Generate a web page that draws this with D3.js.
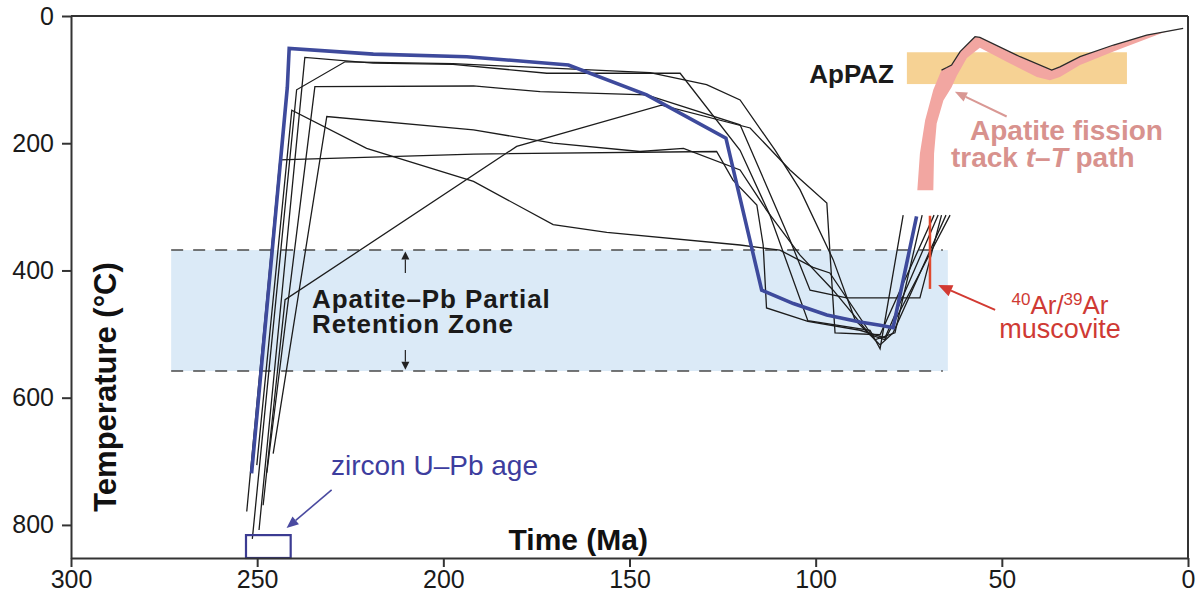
<!DOCTYPE html>
<html>
<head>
<meta charset="utf-8">
<script src="https://cdn.jsdelivr.net/npm/d3@7"></script>
<style>
  body { margin: 0; background: #fff; }
  svg { display: block; }
  text { font-family: "Liberation Sans", Arial, Helvetica, sans-serif; }
</style>
</head>
<body>
<svg id="chart" width="1204" height="594"></svg>
<script>
// Axis ticks
const timeTicks = [300, 250, 200, 150, 100, 50, 0];   // Ma
const tempTicks = [0, 200, 400, 600, 800];            // °C

// Best-fit thermal history: [time (Ma), temperature (°C)]
const bestPath = [[251.5, 719], [241.9, 112], [241.4, 51], [218.8, 60], [193.7, 64], [166.4, 77],
  [145.4, 124], [124.1, 192], [114.5, 431], [106.0, 452], [97.0, 470], [88.1, 481],
  [82.7, 486], [79.2, 490], [72.9, 315]];

// Individual modelled t–T paths
const path1 = [[249.5, 808], [237.2, 65], [218.9, 74], [197.4, 76], [172.2, 90], [136.4, 90],
  [120.3, 211], [112.3, 313], [102.1, 479], [85.4, 494], [82.7, 523], [76.5, 313]];
const path2 = [[251.3, 822], [239.4, 116], [226.4, 72], [197.4, 75], [144.5, 89], [129.3, 108],
  [120.3, 132], [110.9, 211], [104.2, 273], [95.3, 383], [89.4, 478], [82.7, 517], [79.2, 498], [65.0, 313]];
const path3 = [[247.4, 718], [234.5, 111], [191.9, 110], [174.0, 119], [145.4, 124], [120.3, 171],
  [106.9, 352], [101.5, 431], [91.7, 443], [72.0, 443], [66.2, 313]];
const path4 = [[245.7, 688], [231.3, 158], [191.9, 179], [170.5, 200], [147.2, 213], [135.5, 208],
  [120.3, 242], [113.2, 305], [104.2, 376], [95.3, 431], [85.4, 501], [81.4, 509], [63.9, 313]];
const path5 = [[252.8, 779], [243.9, 226], [191.9, 217], [126.6, 213], [122.2, 258], [115.8, 297],
  [114.1, 360], [113.2, 459], [102.1, 480], [88.1, 494], [81.4, 506], [67.1, 313]];
const path6 = [[250.1, 706], [240.7, 148], [220.6, 208], [191.9, 260], [170.5, 328], [156.1, 340],
  [120.3, 360], [109.6, 368], [100.7, 395], [96.2, 404], [84.1, 509], [78.7, 498], [71.4, 313]];
const path7 = [[248.4, 769], [242.5, 446], [180.3, 205], [141.4, 140], [117.6, 176], [106.9, 242],
  [97.0, 294], [94.8, 498], [82.7, 501], [68.2, 313]];
const modelPaths = [path1, path2, path3, path4, path5, path6, path7];

// Apatite–Pb partial retention zone
const przTime = [273.1, 64.5];
const przTemp = [368, 558];

// Apatite fission-track partial annealing zone (ApPAZ)
const apPazTime = [75.5, 16.4];
const apPazTemp = [57, 107];

// Apatite fission-track t–T envelope (upper edge, then lower edge back from the tip)
const aftUpper = [[72.7, 274], [72.0, 216], [70.6, 164], [68.4, 116], [66.2, 85], [64.8, 81], [63.5, 77],
  [61.2, 56], [57.2, 32.5], [55.9, 33.5], [45.1, 64], [36.6, 85], [34.4, 80], [29.0, 64],
  [20.0, 45.6], [11.1, 30], [1.3, 19.4]];
const aftLower = [[6.6, 26], [20.0, 56], [29.0, 77], [34.4, 96], [37.1, 101], [40.6, 96],
  [48.7, 72], [55.9, 50], [59.4, 66], [62.1, 94], [63.5, 112], [65.7, 133], [67.5, 169],
  [68.2, 216], [68.4, 274]];

// Zircon U–Pb age box and 40Ar/39Ar muscovite age
const zirconTime = [253.0, 241.0];
const zirconTemp = [816, 852];
const arArTime = 69.3;
const arArTemp = [314, 429];

const svg = d3.select("#chart");
const x = d3.scaleLinear().domain([300, 0]).range([71, 1188]);
const y = d3.scaleLinear().domain([0, 852]).range([16, 558]);
const line = d3.line().x(d => x(d[0])).y(d => y(d[1]));

function arrow(g, t1, T1, t2, T2, color, width, len, half) {
  const x1 = x(t1), y1 = y(T1), x2 = x(t2), y2 = y(T2);
  const a = Math.atan2(y2 - y1, x2 - x1);
  const bx = x2 - len * Math.cos(a), by = y2 - len * Math.sin(a);
  g.append("line").attr("x1", x1).attr("y1", y1).attr("x2", bx).attr("y2", by)
    .attr("stroke", color).attr("stroke-width", width);
  const px = -Math.sin(a) * half, py = Math.cos(a) * half;
  g.append("path")
    .attr("d", `M${x2},${y2}L${bx + px},${by + py}L${bx - px},${by - py}Z`)
    .attr("fill", color);
}

// Partial retention zone band
svg.append("rect")
  .attr("x", x(przTime[0])).attr("y", y(przTemp[0]))
  .attr("width", x(przTime[1]) - x(przTime[0]))
  .attr("height", y(przTemp[1]) - y(przTemp[0]))
  .attr("fill", "#dbeaf7");
przTemp.forEach(T => {
  svg.append("line")
    .attr("x1", x(przTime[0])).attr("x2", x(przTime[1]) - 5)
    .attr("y1", y(T)).attr("y2", y(T))
    .attr("stroke", "#4a4a4a").attr("stroke-width", 1.5)
    .attr("stroke-dasharray", "12,10");
});
const ann = svg.append("g");
arrow(ann, 210.2, 404, 210.2, przTemp[0] + 2, "#222", 1.2, 8, 4);
arrow(ann, 210.2, 525, 210.2, przTemp[1] - 2, "#222", 1.2, 8, 4);

ann.append("text").attr("x", 312).attr("y", 308)
  .attr("font-size", 26).attr("font-weight", "bold").attr("letter-spacing", 0.9).attr("fill", "#1a1a1a")
  .text("Apatite–Pb Partial");
ann.append("text").attr("x", 312).attr("y", 333)
  .attr("font-size", 26).attr("font-weight", "bold").attr("letter-spacing", 0.9).attr("fill", "#1a1a1a")
  .text("Retention Zone");

// Modelled paths
svg.append("g").selectAll("path").data(modelPaths).join("path")
  .attr("d", line)
  .attr("fill", "none").attr("stroke", "#1c1c1c").attr("stroke-width", 1.3)
  .attr("stroke-linejoin", "miter");

svg.append("path").attr("d", line(bestPath))
  .attr("fill", "none").attr("stroke", "#3e4a9c").attr("stroke-width", 3.6)
  .attr("stroke-linejoin", "miter");

// 40Ar/39Ar muscovite
svg.append("line")
  .attr("x1", x(arArTime)).attr("x2", x(arArTime))
  .attr("y1", y(arArTemp[0])).attr("y2", y(arArTemp[1]))
  .attr("stroke", "#e04a2e").attr("stroke-width", 2.5);
arrow(ann, 51.8, 462, 67.1, 423, "#d23a32", 2, 14, 6);
const arText = ann.append("text").attr("x", 1060).attr("y", 314)
  .attr("text-anchor", "middle").attr("font-size", 26).attr("fill", "#cf3a34");
arText.append("tspan").attr("font-size", 17).attr("dy", -9).text("40");
arText.append("tspan").attr("dy", 9).text("Ar/");
arText.append("tspan").attr("font-size", 17).attr("dy", -9).text("39");
arText.append("tspan").attr("dy", 9).text("Ar");
ann.append("text").attr("x", 1060).attr("y", 338)
  .attr("text-anchor", "middle").attr("font-size", 27).attr("fill", "#cf3a34")
  .text("muscovite");

// ApPAZ band and fission-track path
svg.append("rect")
  .attr("x", x(apPazTime[0])).attr("y", y(apPazTemp[0]))
  .attr("width", x(apPazTime[1]) - x(apPazTime[0]))
  .attr("height", y(apPazTemp[1]) - y(apPazTemp[0]))
  .attr("fill", "#f6d294");
svg.append("text").attr("x", 894).attr("y", 83)
  .attr("text-anchor", "end").attr("font-size", 26).attr("font-weight", "bold").attr("fill", "#1a1a1a")
  .text("ApPAZ");

svg.append("path")
  .attr("d", line(aftUpper.concat(aftLower)) + "Z")
  .attr("fill", "#f2a6a1");
svg.append("path")
  .attr("d", line(aftUpper.slice(4)))
  .attr("fill", "none").attr("stroke", "#2a2a2a").attr("stroke-width", 1.3);
arrow(ann, 48.7, 158, 62.6, 119, "#d99894", 2, 12, 5);
ann.append("text").attr("x", 970).attr("y", 140)
  .attr("font-size", 28).attr("font-weight", "bold").attr("fill", "#d8928e")
  .text("Apatite fission");
const trk = ann.append("text").attr("x", 951).attr("y", 167)
  .attr("font-size", 28).attr("font-weight", "bold").attr("fill", "#d8928e");
trk.append("tspan").text("track ");
trk.append("tspan").attr("font-style", "italic").text("t");
trk.append("tspan").text("–");
trk.append("tspan").attr("font-style", "italic").text("T");
trk.append("tspan").text(" path");

// Zircon U–Pb age
svg.append("rect")
  .attr("x", x(zirconTime[0])).attr("y", y(zirconTemp[0]))
  .attr("width", x(zirconTime[1]) - x(zirconTime[0]))
  .attr("height", y(zirconTemp[1]) - y(zirconTemp[0]))
  .attr("fill", "none").attr("stroke", "#3b3b92").attr("stroke-width", 2.2);
arrow(ann, 230.0, 745, 242.1, 805, "#4a4aa0", 1.6, 12, 5);
ann.append("text").attr("x", 331).attr("y", 475)
  .attr("font-size", 28).attr("fill", "#3d3d9e")
  .text("zircon U–Pb age");

// Axes and frame
const axisColor = "#333";
const gy = svg.append("g").attr("transform", `translate(${x(300)},0)`)
  .call(d3.axisLeft(y).tickValues(tempTicks).tickSize(9).tickPadding(8).tickSizeOuter(0));
const gx = svg.append("g").attr("transform", `translate(0,${y(852)})`)
  .call(d3.axisBottom(x).tickValues(timeTicks).tickSize(9).tickPadding(3).tickSizeOuter(0));
[gx, gy].forEach(g => {
  g.select(".domain").attr("stroke", axisColor).attr("stroke-width", 2);
  g.selectAll(".tick line").attr("stroke", axisColor).attr("stroke-width", 2);
  g.selectAll(".tick text").attr("font-size", 25).attr("fill", "#1a1a1a")
    .attr("font-family", "'Liberation Sans', Arial, sans-serif");
});
svg.append("line").attr("x1", x(300)).attr("x2", x(0)).attr("y1", y(0)).attr("y2", y(0))
  .attr("stroke", axisColor).attr("stroke-width", 2);
svg.append("line").attr("x1", x(0)).attr("x2", x(0)).attr("y1", y(0)).attr("y2", y(852))
  .attr("stroke", axisColor).attr("stroke-width", 2);

svg.append("text")
  .attr("transform", `translate(116,387) rotate(-90)`)
  .attr("text-anchor", "middle").attr("font-size", 31).attr("font-weight", "bold").attr("fill", "#111")
  .text("Temperature (°C)");
svg.append("text").attr("x", 648).attr("y", 550)
  .attr("text-anchor", "end").attr("font-size", 30).attr("font-weight", "bold").attr("fill", "#111")
  .text("Time (Ma)");
</script>
</body>
</html>
